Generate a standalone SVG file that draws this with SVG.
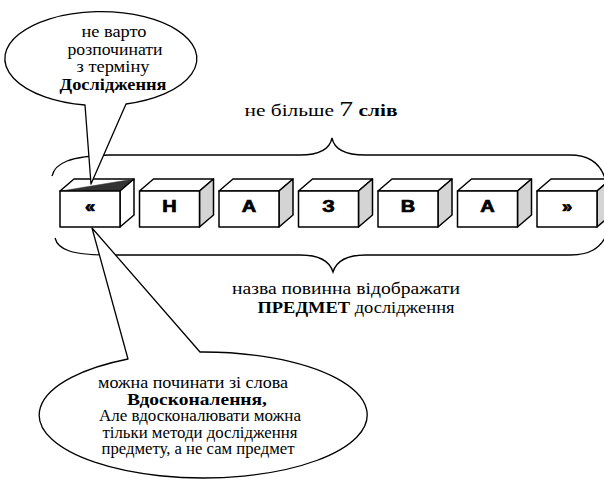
<svg xmlns="http://www.w3.org/2000/svg" width="604" height="483" viewBox="0 0 604 483">
<style>
.ol{fill:#fff;stroke:#000;stroke-width:1.3;stroke-linejoin:round}
.br{fill:none;stroke:#000;stroke-width:1.3}
.t{font-family:"Liberation Serif","Times New Roman",serif;font-size:17px;fill:#000;text-anchor:middle}
.sm{font-size:16px}
.b{font-weight:bold}
.f{fill:#fff;stroke:#000;stroke-width:1.5;stroke-linejoin:round}
.s{fill:#d4d4d4;stroke:#000;stroke-width:1.5;stroke-linejoin:round}
.l{font-family:"Liberation Sans",Arial,sans-serif;font-weight:bold;font-size:16px;fill:#000;stroke:#000;stroke-width:0.7;text-anchor:middle}
</style>
<defs>
<g id="box">
<polygon class="f" points="0,0 14,-12 74,-12 60,0"/>
<polygon class="s" points="60,0 74,-12 74,24 60,36"/>
<rect class="f" x="0" y="0" width="60" height="36"/>
</g>
</defs>
<g id="connectors">
<path id="brace-top" class="br" d="M52 176 C55 163 70 156 110 155 L300 155 C320 155 330 148 332 138 C334 148 344 155 365 155 L570 155 C590 155 602 165 606 182"/>
<path id="brace-bottom" class="br" d="M55 238 C58 250 72 255 110 255 L300 255 C320 255 330 262 333 272 C336 262 346 255 366 255 L570 255 C590 255 600 248 606 236"/>
</g>
<g id="box1">
<polygon class="f" points="60,191 74,179 134,179 120,191"/>
<polygon points="61,191 134,179 120,191" fill="#333" stroke="#333" stroke-width="0.5"/>
<polygon class="f" points="120,191 134,179 134,215 120,227"/>
<rect class="f" x="60" y="191" width="60" height="36"/>
<text class="l" transform="translate(90,212) scale(1.15,1)">«</text>
</g>
<g id="box2"><use href="#box" x="139.5" y="191"/><text class="l" transform="translate(169.5,212) scale(1.25,1)">Н</text></g>
<g id="box3"><use href="#box" x="219" y="191"/><text class="l" transform="translate(249,212) scale(1.25,1)">А</text></g>
<g id="box4"><use href="#box" x="298.5" y="191"/><text class="l" transform="translate(328.5,212) scale(1.25,1)">З</text></g>
<g id="box5"><use href="#box" x="378" y="191"/><text class="l" transform="translate(408,212) scale(1.25,1)">В</text></g>
<g id="box6"><use href="#box" x="457.5" y="191"/><text class="l" transform="translate(487.5,212) scale(1.25,1)">А</text></g>
<g id="box7"><use href="#box" x="537" y="191"/><text class="l" transform="translate(567,212) scale(1.15,1)">»</text></g>
<g id="callout-top">
<path class="ol" d="M85 105 L91 184 L126 104 A96 47 0 1 0 85 105 Z"/>
<text class="t sm" x="114" y="37" textLength="65" lengthAdjust="spacingAndGlyphs">не варто</text>
<text class="t sm" x="115" y="54.5" textLength="95" lengthAdjust="spacingAndGlyphs">розпочинати</text>
<text class="t sm" x="113" y="72" textLength="73" lengthAdjust="spacingAndGlyphs">з терміну</text>
<text class="t sm b" x="113" y="89.5" textLength="107" lengthAdjust="spacingAndGlyphs">Дослідження</text>
</g>
<g id="label-top">
<text class="t" x="321" y="116" textLength="153" lengthAdjust="spacingAndGlyphs">не більше <tspan font-size="22">7</tspan> <tspan class="b">слів</tspan></text>
</g>
<g id="label-bottom">
<text class="t" x="346" y="294" textLength="228" lengthAdjust="spacingAndGlyphs">назва повинна відображати</text>
<text class="t" x="356" y="313" textLength="197" lengthAdjust="spacingAndGlyphs"><tspan class="b">ПРЕДМЕТ</tspan> дослідження</text>
</g>
<g id="callout-bottom">
<path class="ol" d="M200 352 L92 228 L128 359 A164 63 0 1 0 200 352 Z"/>
<text class="t sm" x="193" y="388" textLength="190" lengthAdjust="spacingAndGlyphs">можна починати зі слова</text>
<text class="t sm b" x="197" y="404.5" textLength="140" lengthAdjust="spacingAndGlyphs">Вдосконалення,</text>
<text class="t sm" x="200" y="421" textLength="202" lengthAdjust="spacingAndGlyphs">Але вдосконалювати можна</text>
<text class="t sm" x="200" y="437.5" textLength="195" lengthAdjust="spacingAndGlyphs">тільки методи дослідження</text>
<text class="t sm" x="198" y="454" textLength="193" lengthAdjust="spacingAndGlyphs">предмету, а не сам предмет</text>
</g>
</svg>
